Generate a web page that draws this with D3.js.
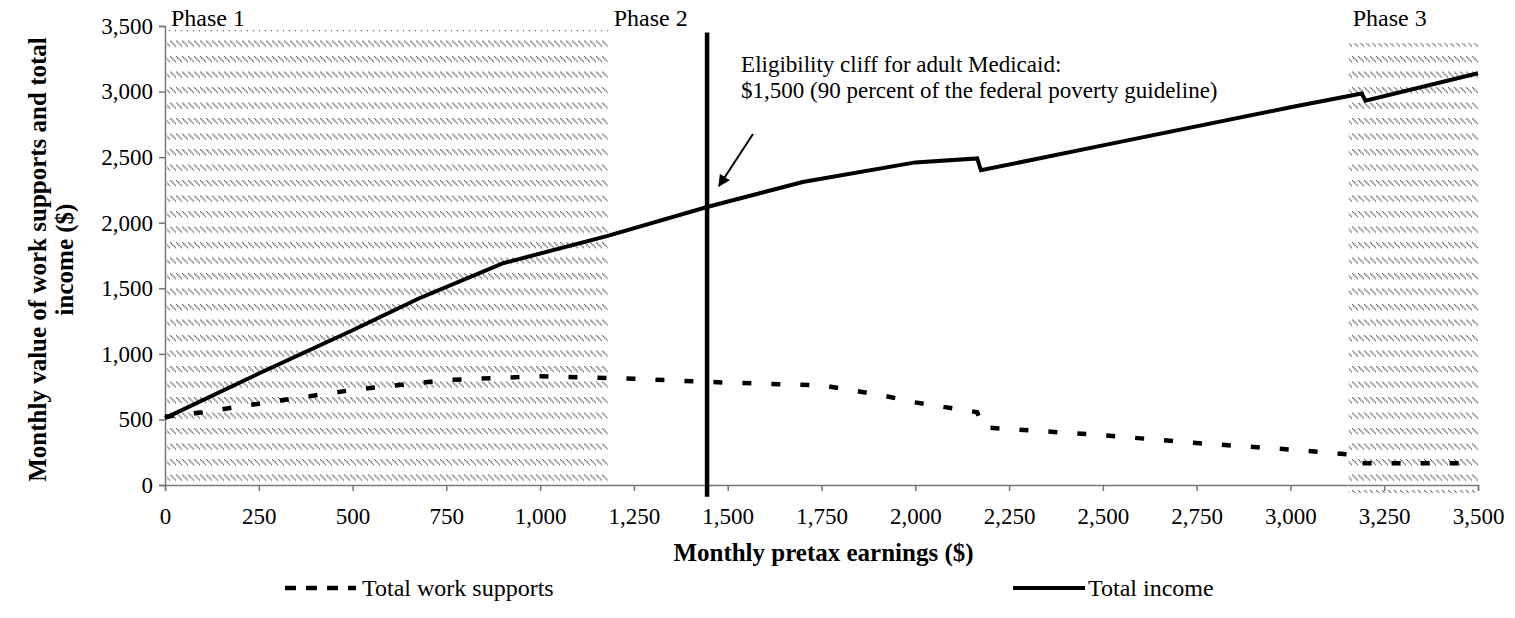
<!DOCTYPE html>
<html>
<head>
<meta charset="utf-8">
<script src="https://cdn.jsdelivr.net/npm/d3@7"></script>
<style>
  body { margin: 0; background: #fff; }
  svg text { font-family: "Liberation Serif", "Times New Roman", serif; fill: #000; }
</style>
</head>
<body>
<div id="chart"></div>
<script>
// Chart data
var incomeEarnings = [0, 250, 500, 675, 900, 1180, 1445, 1700, 2000, 2165, 2175, 2500, 3000, 3190, 3200, 3500];
var incomeValues   = [510, 850, 1180, 1420, 1690, 1900, 2120, 2310, 2460, 2490, 2400, 2590, 2880, 2985, 2930, 3140];

var supportEarnings = [0, 100, 250, 500, 750, 1000, 1250, 1500, 1750, 1900, 2000, 2165, 2180, 2500, 2750, 3000, 3170, 3190, 3500];
var supportValues   = [520, 555, 620, 725, 800, 830, 810, 780, 760, 690, 630, 555, 440, 380, 320, 270, 230, 165, 165];

var phaseLabels = ["Phase 1", "Phase 2", "Phase 3"];
var phaseStarts = [0, 1180, 3150];
var shadedPhases = [{start: 0, end: 1180, top: 3470, bottom: 0}, {start: 3150, end: 3500, top: 3370, bottom: -60}];

var cliffEarnings = 1445;
var cliffTop = 3450, cliffBottom = -90;
var cliffNote = ["Eligibility cliff for adult Medicaid:", "$1,500 (90 percent of the federal poverty guideline)"];

var xTicks = [0, 250, 500, 750, 1000, 1250, 1500, 1750, 2000, 2250, 2500, 2750, 3000, 3250, 3500];
var yTicks = [0, 500, 1000, 1500, 2000, 2500, 3000, 3500];

var xAxisName = "Monthly pretax earnings ($)";
var yAxisLines = ["Monthly value of work supports and total", "income ($)"];
var seriesNames = ["Total work supports", "Total income"];

var svgWidth = 1515, svgHeight = 618;
var margin = {top: 26, right: 37, bottom: 133, left: 165};
var chartWidth = svgWidth - margin.left - margin.right;
var chartHeight = svgHeight - margin.top - margin.bottom;
var serif = "'Liberation Serif', 'Times New Roman', serif";

var svg = d3.select("#chart").append("svg")
    .attr("width", svgWidth)
    .attr("height", svgHeight)
    .attr("font-family", serif);

// hatch pattern for the shaded phases
var defs = svg.append("defs");
var pat = defs.append("pattern")
    .attr("id", "hatch")
    .attr("patternUnits", "userSpaceOnUse")
    .attr("x", margin.left + 2)
    .attr("y", margin.top + 4)
    .attr("width", 6)
    .attr("height", 15.5);
pat.append("line")
    .attr("x1", 0).attr("y1", 0)
    .attr("x2", 6).attr("y2", 6)
    .attr("stroke", "#5a5a5a")
    .attr("stroke-width", 1.4)
    .attr("stroke-dasharray", "1.2 0.6");

var g = svg.append("g")
    .attr("transform", `translate(${margin.left}, ${margin.top})`);

var xScale = d3.scaleLinear().domain([0, 3500]).range([0, chartWidth]);
var yScale = d3.scaleLinear().domain([0, 3500]).range([chartHeight, 0]);

// shaded phases
g.selectAll("rect.phase")
    .data(shadedPhases)
    .enter().append("rect")
    .attr("class", "phase")
    .attr("x", d => xScale(d.start) + 2)
    .attr("y", d => yScale(d.top))
    .attr("width", d => xScale(d.end) - xScale(d.start) - 2)
    .attr("height", d => yScale(d.bottom) - yScale(d.top))
    .attr("fill", "url(#hatch)");

// phase labels
g.selectAll("text.phaseLabel")
    .data(phaseLabels)
    .enter().append("text")
    .attr("x", (d, i) => xScale(phaseStarts[i]) + 6)
    .attr("y", 0)
    .style("font-family", serif)
    .style("font-size", "24px")
    .text(d => d);

// axes
var xAxis = d3.axisBottom(xScale)
    .tickValues(xTicks)
    .tickSize(6)
    .tickPadding(17)
    .tickFormat(d3.format(","));

var yAxis = d3.axisLeft(yScale)
    .tickValues(yTicks)
    .tickSize(6)
    .tickPadding(6)
    .tickFormat(d3.format(","));

var xg = g.append("g")
    .attr("transform", `translate(0, ${chartHeight})`)
    .call(xAxis);
var yg = g.append("g").call(yAxis);

[xg, yg].forEach(a => {
    a.attr("font-family", serif);
    a.select(".domain").attr("stroke", "#777").attr("stroke-width", 1.5);
    a.selectAll(".tick line").attr("stroke", "#777").attr("stroke-width", 1.5);
    a.selectAll(".tick text")
        .style("font-size", "23px")
        .style("font-family", serif)
        .attr("fill", "#000");
});

// lines
var line = d3.line()
    .x(d => xScale(d[0]))
    .y(d => yScale(d[1]));

var supportPts = supportEarnings.map((e, i) => [e, supportValues[i]]);
var incomePts = incomeEarnings.map((e, i) => [e, incomeValues[i]]);

g.append("path")
    .datum(supportPts)
    .attr("fill", "none")
    .attr("stroke", "#000")
    .attr("stroke-width", 4.5)
    .attr("stroke-dasharray", "9,20")
    .attr("d", line);

g.append("path")
    .datum(incomePts)
    .attr("fill", "none")
    .attr("stroke", "#000")
    .attr("stroke-width", 4)
    .attr("stroke-linejoin", "miter")
    .attr("d", line);

// eligibility cliff
g.append("line")
    .attr("x1", xScale(cliffEarnings)).attr("x2", xScale(cliffEarnings))
    .attr("y1", yScale(cliffTop)).attr("y2", yScale(cliffBottom))
    .attr("stroke", "#000")
    .attr("stroke-width", 4.5);

defs.append("marker")
    .attr("id", "arrow")
    .attr("viewBox", "0 0 10 10")
    .attr("refX", 9).attr("refY", 5)
    .attr("markerWidth", 6).attr("markerHeight", 6)
    .attr("orient", "auto")
    .append("path")
    .attr("d", "M0,0 L10,5 L0,10 z")
    .attr("fill", "#000");

g.append("line")
    .attr("x1", 588).attr("y1", 108)
    .attr("x2", 554).attr("y2", 160)
    .attr("stroke", "#000")
    .attr("stroke-width", 2)
    .attr("marker-end", "url(#arrow)");

g.selectAll("text.note")
    .data(cliffNote)
    .enter().append("text")
    .attr("x", xScale(cliffEarnings) + 34)
    .attr("y", (d, i) => 46 + i * 26)
    .style("font-family", serif)
    .style("font-size", "23px")
    .text(d => d);

// axis titles
g.append("text")
    .attr("x", chartWidth / 2 + 2)
    .attr("y", chartHeight + 76)
    .attr("text-anchor", "middle")
    .style("font-family", serif)
    .style("font-size", "25px")
    .style("font-weight", "bold")
    .text(xAxisName);

g.append("g").selectAll("text")
    .data(yAxisLines)
    .enter().append("text")
    .attr("transform", "rotate(-90)")
    .attr("x", -chartHeight / 2 - 4)
    .attr("y", (d, i) => -119 + i * 27)
    .attr("text-anchor", "middle")
    .style("font-family", serif)
    .style("font-size", "25px")
    .style("font-weight", "bold")
    .text(d => d);

// legend
var legend = svg.append("g").attr("transform", `translate(0, ${svgHeight - 30})`);
legend.append("line")
    .attr("x1", 285).attr("x2", 356).attr("y1", 0).attr("y2", 0)
    .attr("stroke", "#000").attr("stroke-width", 4.5)
    .attr("stroke-dasharray", "11,10");
legend.append("text")
    .attr("x", 362).attr("y", 8)
    .style("font-family", serif)
    .style("font-size", "24px")
    .text(seriesNames[0]);
legend.append("line")
    .attr("x1", 1013).attr("x2", 1085).attr("y1", 0).attr("y2", 0)
    .attr("stroke", "#000").attr("stroke-width", 4);
legend.append("text")
    .attr("x", 1088).attr("y", 8)
    .style("font-family", serif)
    .style("font-size", "24px")
    .text(seriesNames[1]);
</script>
</body>
</html>
